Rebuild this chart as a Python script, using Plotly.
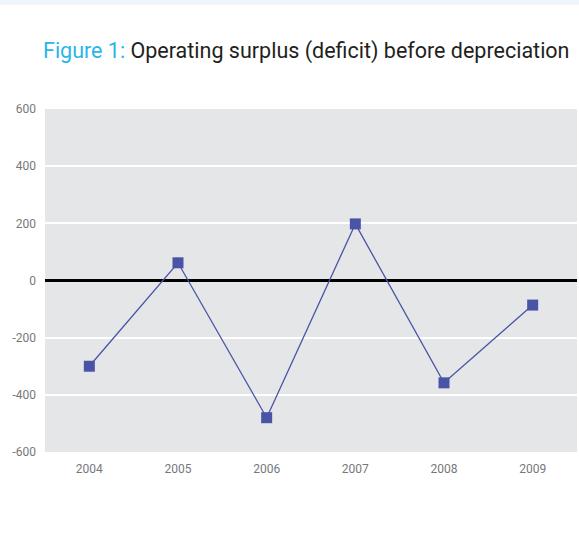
import plotly.graph_objects as go

years = ["2004", "2005", "2006", "2007", "2008", "2009"]
surplus = [-300, 62, -480, 198, -358, -86]
y_ticks = [-600, -400, -200, 0, 200, 400, 600]
y_tick_labels = ["-600", "-400", "-200", "0", "200", "400", "600"]

fig = go.Figure()
fig.add_trace(go.Scatter(
    x=years, y=surplus, mode="lines+markers",
    line=dict(color="#4a54a6", width=1.3),
    marker=dict(symbol="square", size=11, color="#4a54a6"),
    showlegend=False,
))

fig.update_layout(
    width=579, height=548,
    margin=dict(l=45, r=2, t=109, b=96),
    paper_bgcolor="white",
    plot_bgcolor="#e5e6e8",
    xaxis=dict(type="category", range=[-0.5, 5.5], showgrid=False, zeroline=False,
               ticks="", tickfont=dict(family="Roboto", size=12, color="#77787b"),
               ticklabelstandoff=8),
    yaxis=dict(range=[-600, 600], tickvals=y_ticks, ticktext=y_tick_labels,
               showgrid=True, gridcolor="white",
               gridwidth=2, zeroline=True, zerolinecolor="black", zerolinewidth=3,
               ticks="", tickfont=dict(family="Roboto", size=12, color="#77787b"),
               ticklabelstandoff=8),
    shapes=[dict(type="rect", xref="paper", yref="paper",
                 x0=-0.1, x1=1.01, y0=1 + 104 / 343, y1=1 + 112 / 343,
                 fillcolor="#eef6fb", line=dict(width=0), layer="below")],
    annotations=[dict(
        xref="paper", yref="paper", x=-0.008, y=1 + (109 - 51) / 343,
        xanchor="left", yanchor="middle", showarrow=False,
        text="<span style='color:#29b5e8'>Figure 1:</span> Operating surplus (deficit) before depreciation",
        font=dict(family="Roboto", size=21.5, color="#231f20"),
    )],
)

fig.write_html("out.html", config={"displayModeBar": False},
               post_script="document.body.style.margin='0';document.body.style.overflow='hidden';")
